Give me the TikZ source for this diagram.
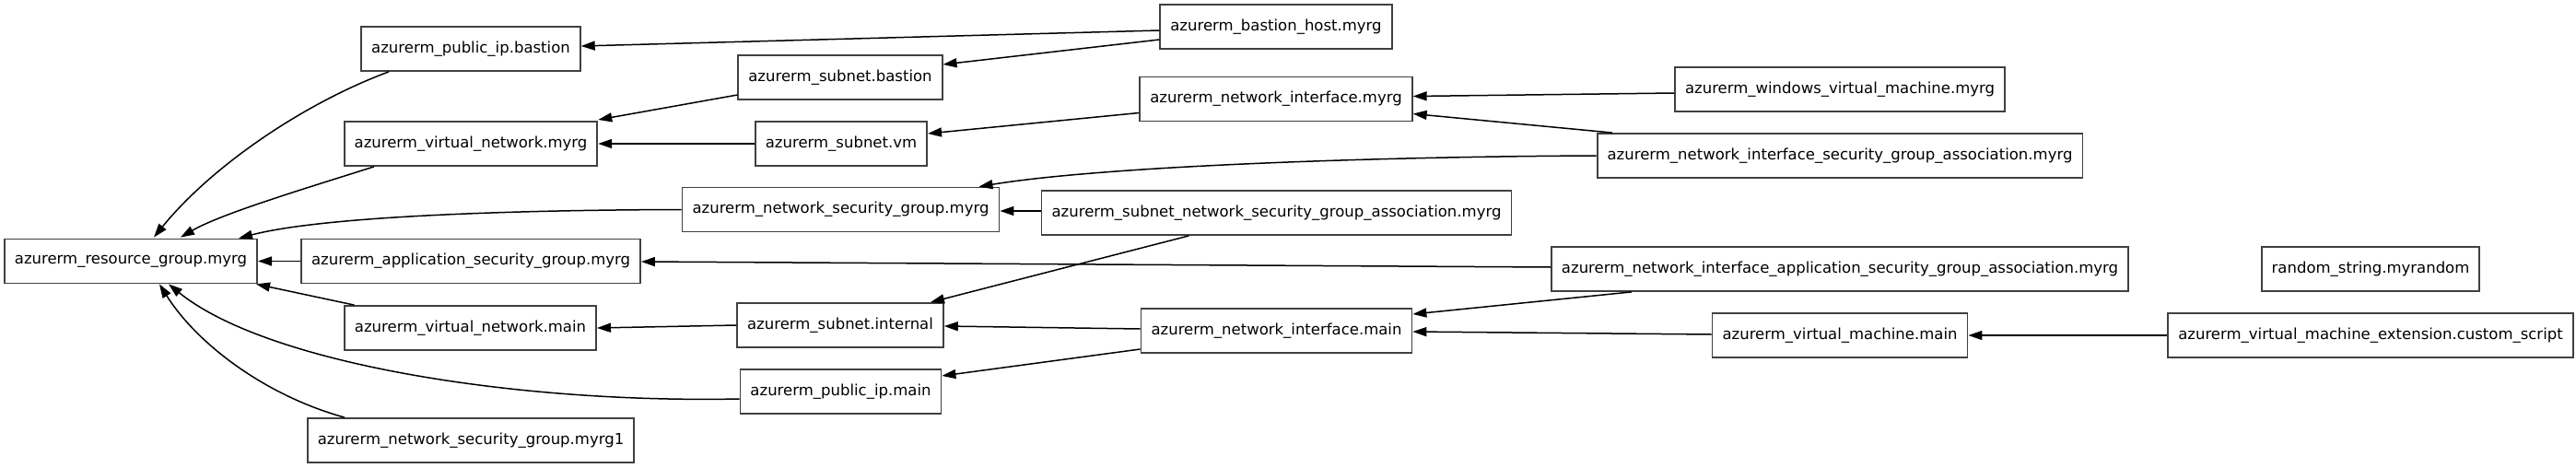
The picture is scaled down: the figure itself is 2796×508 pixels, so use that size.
\documentclass[tikz,border=0pt]{standalone}
\usepackage{fontspec}
\setmainfont{DejaVu Sans}
\usetikzlibrary{arrows.meta}
\begin{document}
\begin{tikzpicture}[x=1pt,y=-1pt,
  res/.style={draw=black!75, line width=1.8pt, fill=white, inner xsep=11pt, inner ysep=0pt,
    minimum height=48pt, font=\fontsize{16.5}{18}\selectfont, text=black},
  dep/.style={draw=black, line width=1.5pt, -{Triangle[length=15pt,width=10pt]}}]
\useasboundingbox[fill=white] (0,0) rectangle (2796,508);

\node[res] (pib) at (511,53) {azurerm\_public\_ip.bastion};
\node[res] (vnm) at (511,156) {azurerm\_virtual\_network.myrg};
\node[res] (rg) at (142,283.5) {azurerm\_resource\_group.myrg};
\node[res] (asg) at (511,283.5) {azurerm\_application\_security\_group.myrg};
\node[res] (vnmain) at (510.5,356) {azurerm\_virtual\_network.main};
\node[res] (nsg1) at (511,478) {azurerm\_network\_security\_group.myrg1};
\node[res] (bh) at (1385,29) {azurerm\_bastion\_host.myrg};
\node[res] (sb) at (912,84) {azurerm\_subnet.bastion};
\node[res] (nim) at (1385,107.5) {azurerm\_network\_interface.myrg};
\node[res] (svm) at (913,156) {azurerm\_subnet.vm};
\node[res] (nsgm) at (912.5,227.5) {azurerm\_network\_security\_group.myrg};
\node[res] (snsga) at (1385.5,231) {azurerm\_subnet\_network\_security\_group\_association.myrg};
\node[res] (wvm) at (1997,97) {azurerm\_windows\_virtual\_machine.myrg};
\node[res] (nisga) at (1997,169) {azurerm\_network\_interface\_security\_group\_association.myrg};
\node[res] (si) at (912,353) {azurerm\_subnet.internal};
\node[res] (pim) at (912.5,425) {azurerm\_public\_ip.main};
\node[res] (nimain) at (1385.5,359) {azurerm\_network\_interface.main};
\node[res] (niasga) at (1997,292) {azurerm\_network\_interface\_application\_security\_group\_association.myrg};
\node[res] (vmm) at (1997,364) {azurerm\_virtual\_machine.main};
\node[res] (rs) at (2573,292) {random\_string.myrandom};
\node[res] (vme) at (2573,364) {azurerm\_virtual\_machine\_extension.custom\_script};

\draw[dep] ([yshift=-4pt]bh.west) -- ([yshift=3pt]pib.east);
\draw[dep] ([yshift=-14pt]bh.west) -- ([yshift=14pt]sb.east);
\draw[dep] ([xshift=-89pt]pib.south) .. controls (330,112) and (230,180) .. ([xshift=25pt,yshift=1pt]rg.north);
\draw[dep] ([xshift=-105pt]vnm.south) .. controls (330,205) and (240,232) .. ([xshift=54pt,yshift=1pt]rg.north);
\draw[dep] ([yshift=-19pt]sb.west) -- ([yshift=26pt]vnm.east);
\draw[dep] (svm.west) -- (vnm.east);
\draw[dep] ([yshift=-15pt]nim.west) -- ([yshift=11pt]svm.east);
\draw[dep] ([yshift=-4pt]wvm.west) -- ([yshift=3pt]nim.east);
\draw[dep] ([xshift=-247pt]nisga.north) -- ([yshift=-16pt]nim.east);
\draw[dep] (nisga.west) .. controls (1500,170) and (1200,180) .. ([xshift=150pt]nsgm.north);
\draw[dep] (nsgm.west) .. controls (550,228) and (350,235) .. ([xshift=117pt]rg.north);
\draw[dep] ([yshift=2pt]snsga.west) -- ([yshift=-1.5pt]nsgm.east);
\draw[dep] ([xshift=-95pt]snsga.south) -- ([xshift=98pt]si.north);
\draw[dep] (asg.west) -- (rg.east);
\draw[dep] ([yshift=2pt]niasga.west) -- ([yshift=-0.5pt]asg.east);
\draw[dep] ([xshift=-226pt]niasga.south) -- ([yshift=18pt]nimain.east);
\draw[dep] ([yshift=1pt]vmm.west) -- ([yshift=-1pt]nimain.east);
\draw[dep] (vme.west) -- (vmm.east);
\draw[dep] ([yshift=2pt]nimain.west) -- ([yshift=-1pt]si.east);
\draw[dep] ([yshift=-20pt]nimain.west) -- ([yshift=17pt]pim.east);
\draw[dep] (si.west) -- (vnmain.east);
\draw[dep] ([xshift=-126pt]vnmain.north) -- ([xshift=136pt]rg.south);
\draw[dep] ([yshift=-8pt]pim.west) .. controls (560,438) and (290,395) .. ([xshift=41pt]rg.south);
\draw[dep] ([xshift=-137pt]nsg1.north) .. controls (290,430) and (215,375) .. ([xshift=31pt]rg.south);
\end{tikzpicture}
\end{document}
